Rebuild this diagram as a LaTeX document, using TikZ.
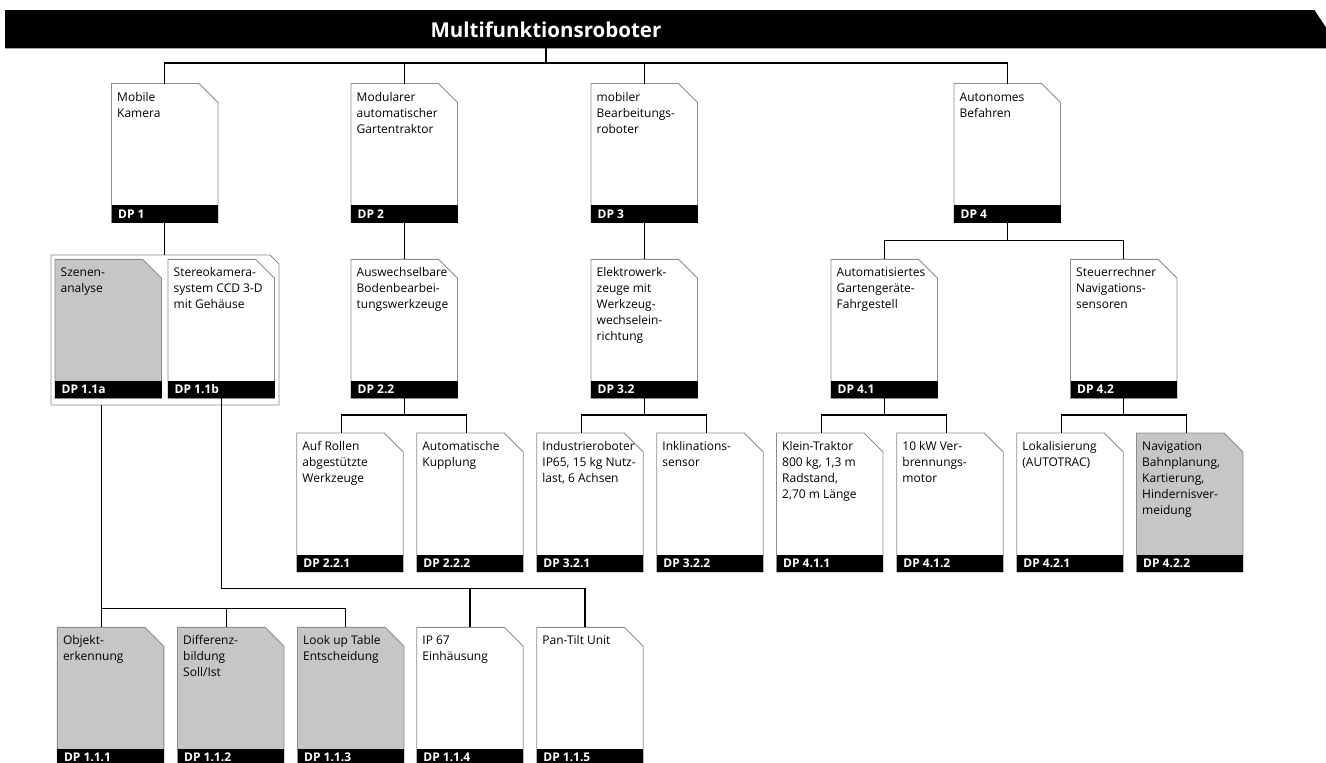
\documentclass[tikz,border=0pt]{standalone}
\usepackage{fontspec}
\setmainfont{Open Sans}
\usetikzlibrary{calc}
\definecolor{cardgray}{HTML}{C6C6C6}
\definecolor{edgegray}{HTML}{8C8C8C}
\tikzset{
  conn/.style={draw=black, line width=1.2pt},
  cardbox/.style={inner sep=0pt, outer sep=0pt, minimum width=106.5pt, minimum height=139pt, draw=none},
  cardedge/.style={draw=edgegray, line width=0.9pt},
  cardtext/.style={inner sep=0pt, align=left, font=\fontsize{12}{16}\selectfont},
  dplabel/.style={inner sep=0pt, text=white, font=\fontsize{12}{14}\selectfont\bfseries},
  titletext/.style={inner sep=0pt, text=white, font=\fontsize{20.5}{24}\selectfont\bfseries},
}
% card: name, left, top, fill, text, label
% the first text line carries a strut of 11pt, so its baseline lies 17.4pt below the card top
\newcommand\dpcard[6]{%
  \node[cardbox, anchor=north west] (#1) at (#2,#3) {};
  \filldraw[cardedge, fill=#4] (#1.north west) -- ($(#1.north east)+(-19,0)$)
    -- ($(#1.north east)+(0,19)$) -- (#1.south east) -- (#1.south west) -- cycle;
  \fill[black] ($(#1.south west)+(0,-17.5)$) rectangle (#1.south east);
  \node[cardtext, anchor=north west] at ($(#1.north west)+(5.5,6.4)$) {\rule{0pt}{11pt}#5};
  \node[dplabel, anchor=base west] at ($(#1.south west)+(6.5,-4.4)$) {#6};
}
% fork: parent, left child, right child, bar level
\newcommand\dpfork[4]{%
  \path ($(#2.north west)+(45,0)$) coordinate (#2-in)
        ($(#3.north west)+(50,0)$) coordinate (#3-in);
  \draw[conn] (#1.south) -- (#1.south |- #4);
  \draw[conn] (#2-in) -- (#2-in |- #4) -- (#3-in |- #4) -- (#3-in);
}
\begin{document}
\begin{tikzpicture}[x=1pt, y=-1pt]
\clip (0,0) rectangle (1326,763);
\fill[white] (0,0) rectangle (1326,763);

% levels of the connector bars
\coordinate (lv1) at (0,63);
\coordinate (lv2) at (0,240.7);
\coordinate (lv3) at (0,415);
\coordinate (lv4a) at (0,608.3);
\coordinate (lv4b) at (0,588.3);

% title bar
\node[inner sep=0pt, minimum width=1321pt, minimum height=38pt, anchor=north west] (bar) at (5,10) {};
\fill[black] (bar.north west) -- ($(bar.north east)+(-12,0)$) -- ($(bar.north east)+(0,18)$)
  -- (bar.south east) -- (bar.south west) -- cycle;
\node[titletext] (title) at (546,29.5) {Multifunktionsroboter};

% first level
\dpcard{dp1}{111.5}{83.5}{white}{Mobile\\Kamera}{DP 1}
\dpcard{dp2}{351}{83.5}{white}{Modularer\\automatischer\\Gartentraktor}{DP 2}
\dpcard{dp3}{591}{83.5}{white}{mobiler\\Bearbeitungs-\\roboter}{DP 3}
\dpcard{dp4}{954}{83.5}{white}{Autonomes\\Befahren}{DP 4}

\draw[conn] (title |- bar.south) -- (title |- lv1);
\draw[conn] (dp1.north) -- (dp1.north |- lv1) -- (dp4.north |- lv1) -- (dp4.north);
\draw[conn] (dp2.north) -- (dp2.north |- lv1);
\draw[conn] (dp3.north) -- (dp3.north |- lv1);

% second level
\node[inner sep=0pt, outer sep=0pt, minimum width=228pt, minimum height=150pt, anchor=north west] (dp11) at (51,255) {};
\draw[cardedge] (dp11.north west) -- ($(dp11.north east)+(-9,0)$) -- ($(dp11.north east)+(0,9)$)
  -- (dp11.south east) -- (dp11.south west) -- cycle;
\dpcard{dp11a}{55}{259.3}{cardgray}{Szenen-\\analyse}{DP 1.1a}
\dpcard{dp11b}{168}{259.3}{white}{Stereokamera-\\system CCD 3-D\\mit Gehäuse}{DP 1.1b}
\dpcard{dp22}{351}{259.3}{white}{Auswechselbare\\Bodenbearbei-\\tungswerkzeuge}{DP 2.2}
\dpcard{dp32}{591}{259.3}{white}{Elektrowerk-\\zeuge mit\\Werkzeug-\\wechselein-\\richtung}{DP 3.2}
\dpcard{dp41}{831}{259.3}{white}{Automatisiertes\\Gartengeräte-\\Fahrgestell}{DP 4.1}
\dpcard{dp42}{1070.5}{259.3}{white}{Steuerrechner\\Navigations-\\sensoren}{DP 4.2}

\draw[conn] (dp1.south) -- (dp1.south |- dp11.north);
\draw[conn] (dp2.south) -- (dp22.north);
\draw[conn] (dp3.south) -- (dp32.north);
\draw[conn] (dp4.south) -- (dp4.south |- lv2);
\draw[conn] (dp41.north) -- (dp41.north |- lv2) -- (dp42.north |- lv2) -- (dp42.north);

% third level
\dpcard{dp221}{296.7}{433}{white}{Auf Rollen\\abgestützte\\Werkzeuge}{DP 2.2.1}
\dpcard{dp222}{416.7}{433}{white}{Automatische\\Kupplung}{DP 2.2.2}
\dpcard{dp321}{536.7}{433}{white}{Industrieroboter\\IP65, 15 kg Nutz-\\last, 6 Achsen}{DP 3.2.1}
\dpcard{dp322}{656.7}{433}{white}{Inklinations-\\sensor}{DP 3.2.2}
\dpcard{dp411}{776.5}{433}{white}{Klein-Traktor\\800 kg, 1,3 m\\Radstand,\\2,70 m Länge}{DP 4.1.1}
\dpcard{dp412}{896.7}{433}{white}{10 kW Ver-\\brennungs-\\motor}{DP 4.1.2}
\dpcard{dp421}{1016.7}{433}{white}{Lokalisierung\\(AUTOTRAC)}{DP 4.2.1}
\dpcard{dp422}{1136.5}{433}{cardgray}{Navigation\\Bahnplanung,\\Kartierung,\\Hindernisver-\\meidung}{DP 4.2.2}

\dpfork{dp22}{dp221}{dp222}{lv3}
\dpfork{dp32}{dp321}{dp322}{lv3}
\dpfork{dp41}{dp411}{dp412}{lv3}
\dpfork{dp42}{dp421}{dp422}{lv3}

% fourth level (below the camera group)
\dpcard{dp111}{57.3}{627.3}{cardgray}{Objekt-\\erkennung}{DP 1.1.1}
\dpcard{dp112}{177.5}{627.3}{cardgray}{Differenz-\\bildung\\Soll/Ist}{DP 1.1.2}
\dpcard{dp113}{297.5}{627.3}{cardgray}{Look up Table\\Entscheidung}{DP 1.1.3}
\dpcard{dp114}{416.7}{627.3}{white}{IP 67\\Einhäusung}{DP 1.1.4}
\dpcard{dp115}{536.7}{627.3}{white}{Pan-Tilt Unit}{DP 1.1.5}

\path ($(dp111.north west)+(44.4,0)$) coordinate (in111)
      ($(dp112.north west)+(49.3,0)$) coordinate (in112)
      ($(dp113.north west)+(48.2,0)$) coordinate (in113)
      (dp114.north) coordinate (in114)
      ($(dp115.north west)+(48.3,0)$) coordinate (in115);
\draw[conn] (in111 |- dp11.south) -- (in111);
\draw[conn] (in111 |- lv4a) -- (in113 |- lv4a) -- (in113);
\draw[conn] (in112) -- (in112 |- lv4a);
\draw[conn] (dp11b.south) -- (dp11b.south |- lv4b) -- (in115 |- lv4b) -- (in115);
\draw[conn] (in114) -- (in114 |- lv4b);
\end{tikzpicture}
\end{document}
